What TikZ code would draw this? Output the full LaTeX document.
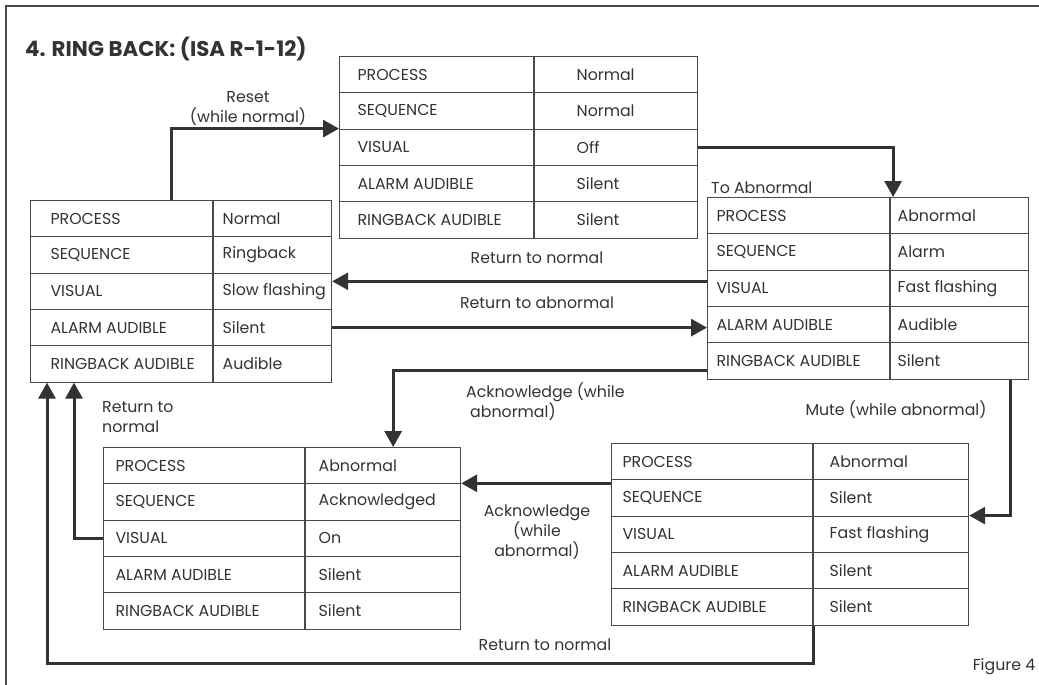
\documentclass[tikz,border=0pt]{standalone}
\usepackage{fontspec}
\setmainfont{Poppins}
\usepackage{tikz}
\usetikzlibrary{arrows.meta}
\usetikzlibrary{calc}
\definecolor{inkc}{HTML}{333333}
\definecolor{gridc}{HTML}{4A4A4A}
\tikzset{
    cell/.style={draw=gridc, line width=1.1pt, minimum height=36.3pt, inner ysep=0pt, text=inkc, font=\fontsize{15.8}{18}\selectfont},
    flow/.style={draw=inkc, line width=3pt, -{Triangle[length=16pt,width=17pt]}},
    lbl/.style={text=inkc, font=\fontsize{15.8}{20}\selectfont, inner sep=0pt}
}

\begin{document}
\begin{tikzpicture}[x=1pt,y=-1pt]
\useasboundingbox (0,0) rectangle (1039,685);
\draw[gridc, line width=1.2pt] (6,685) -- (6,6) -- (1039,6);
\node[anchor=base west, inner sep=0pt, text=inkc, font=\bfseries\fontsize{21.3}{24}\selectfont] (title) at (25,57) {4. RING BACK: (ISA R-1-12)};
% state tables: name/x/y/left width/right width/left pad/right pad/values
\foreach \n/\x/\y/\wa/\wb/\pa/\pb/\va/\vb/\vc/\vd/\ve in {
    nrm/339/56/194/163/18/42/Normal/Normal/Off/Silent/Silent,
    rb/30/200/182/118/20/9/Normal/Ringback/Slow flashing/Silent/Audible,
    alm/707/197/182/138/9/7/Abnormal/Alarm/Fast flashing/Audible/Silent,
    ack/103/447/201/155/12/13/Abnormal/Acknowledged/On/Silent/Silent,
    mut/611/443/201/155/11/16/Abnormal/Silent/Fast flashing/Silent/Silent}{
    \pgfmathsetmacro\twa{\wa-2*\pa}
    \pgfmathsetmacro\twb{\wb-2*\pb}
    \foreach \lab/\val [count=\i] in {PROCESS/\va, SEQUENCE/\vb, VISUAL/\vc, ALARM AUDIBLE/\vd, RINGBACK AUDIBLE/\ve}{
        \node[cell, inner xsep=\pa pt, anchor=north west] (\n-\i-l) at (\x,{\y+(\i-1)*36.3}) {\makebox[\twa pt][l]{\lab}};
        \node[cell, inner xsep=\pb pt, anchor=north west] (\n-\i-r) at (\n-\i-l.north east) {\makebox[\twb pt][l]{\val}};
    }
}
% transitions
\draw[flow] ([xshift=50pt]rb-1-l.north) |- (nrm-3-l.north west);
\draw[flow] (nrm-3-r.east) -| ([xshift=3pt]alm-1-r.north west);
\draw[flow] ([yshift=7pt]alm-3-l.west) -- ([yshift=7pt]alm-3-l.west -| rb-3-r.east);
\draw[flow] (rb-4-r.east) -- (rb-4-r.east -| alm-4-l.west);
\draw[flow] ([yshift=-10pt]alm-5-l.west) -| ([xshift=10pt]ack-1-r.north);
\draw[flow] ([xshift=51pt]alm-5-r.south) |- (mut-3-r.north east);
\draw[flow] (mut-2-l.north west |- ack-2-r.north east) -- (ack-2-r.north east);
\draw[flow] (mut-5-l.south east) -- ++(0,38) -| ([xshift=17pt]rb-5-l.south west);
\draw[flow] (ack-3-l.west) -| ([xshift=44pt]rb-5-l.south west);
% labels
\node[lbl, align=center] (reset) at (248,108) {Reset\\(while normal)};
\node[lbl] (retn) at (537,258) {Return to normal};
\node[lbl] (reta) at (537,303) {Return to abnormal};
\node[lbl, align=left, anchor=west] (ackt) at (466,401.5) {Acknowledge (while\\\hspace*{4pt}abnormal)};
\node[lbl, align=center] (ackb) at (537,532) {Acknowledge\\(while\\abnormal)};
\node[lbl] (mute) at (896,410) {Mute (while abnormal)};
\node[lbl] (retl) at (545,645) {Return to normal};
\node[lbl, align=left, anchor=west] (rets) at (102,417) {Return to\\normal};
\node[lbl, anchor=west] (toab) at (711,188) {To Abnormal};
\node[lbl] (fig) at (1004,667) {Figure 4};
\end{tikzpicture}
\end{document}
